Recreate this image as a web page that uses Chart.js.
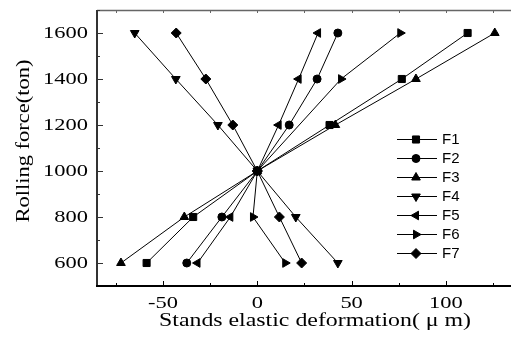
<!DOCTYPE html>
<html>
<head>
<meta charset="utf-8">
<script src="https://cdn.jsdelivr.net/npm/chart.js@4/dist/chart.umd.min.js"></script>
<style>
    html, body { margin: 0; padding: 0; background: #fff; }
</style>
</head>
<body>
<canvas id="deformChart" width="517" height="340"></canvas>
<script>
// ===============================
// DATA
// ===============================
const forces = [600, 800, 1000, 1200, 1400, 1600];

const f1 = [-58.7, -34.0, 0, 38.3, 76.6, 111.5];
const f2 = [-37.4, -18.8, 0, 16.9, 31.7, 42.7];
const f3 = [-72.3, -38.7, 0, 41.4, 84.1, 125.9];
const f4 = [42.7, 20.4, 0, -20.9, -43.2, -65.0];
const f5 = [-31.7, -14.3, 0, 11.3, 21.9, 32.2];
const f6 = [14.8, -2.3, 0, null, 44.4, 75.8];   // no marker at 1200
const f7 = [23.5, 11.7, 0, -13.0, -27.3, -43.0];

const seriesNames = ['F1', 'F2', 'F3', 'F4', 'F5', 'F6', 'F7'];
const seriesValues = [f1, f2, f3, f4, f5, f6, f7];

const xTickLabels = [-50, 0, 50, 100];
const yTickLabels = [600, 800, 1000, 1200, 1400, 1600];

const xTitle = 'Stands elastic deformation( \u03bc m)';
const yTitle = 'Rolling force(ton)';

// ===============================
// MARKER STYLES
// ===============================
const markers = [
    { style: 'rect', rot: 0, r: 5 },
    { style: 'circle', rot: 0, r: 4 },
    { style: 'triangle', rot: 0, r: 5 },
    { style: 'triangle', rot: 180, r: 5 },
    { style: 'triangle', rot: 270, r: 5 },
    { style: 'triangle', rot: 90, r: 5 },
    { style: 'rectRot', rot: 0, r: 5 }
];

function buildPoints(values) {
    const pts = [];
    values.forEach((v, i) => {
        if (v !== null) pts.push({ x: v, y: forces[i] });
    });
    return pts;
}

const datasets = seriesValues.map((vals, i) => ({
    label: seriesNames[i],
    data: buildPoints(vals),
    borderColor: '#000',
    borderWidth: 1,
    backgroundColor: '#000',
    pointStyle: markers[i].style,
    pointRotation: markers[i].rot,
    pointRadius: markers[i].r,
    pointBorderWidth: 1,
    pointBackgroundColor: '#000',
    pointBorderColor: '#000',
    tension: 0,
    fill: false
}));

// ===============================
// TEXT HELPER (serif text is drawn wide in the original)
// ===============================
function wideText(ctx, text, x, y, sx, align) {
    ctx.save();
    ctx.translate(x, y);
    ctx.scale(sx, 1);
    ctx.textAlign = align;
    ctx.fillText(text, 0, 0);
    ctx.restore();
}

// ===============================
// AXES, TICKS, TITLES, LEGEND
// ===============================
const framePlugin = {
    id: 'frame',
    afterDraw(chart) {
        const ctx = chart.ctx;
        const a = chart.chartArea;
        const xs = chart.scales.x;
        const ys = chart.scales.y;

        ctx.save();

        // top line
        ctx.strokeStyle = '#666';
        ctx.lineWidth = 1.5;
        ctx.beginPath();
        ctx.moveTo(a.left, a.top + 0.5);
        ctx.lineTo(a.right, a.top + 0.5);
        ctx.stroke();

        // left line
        ctx.strokeStyle = '#333';
        ctx.lineWidth = 2;
        ctx.beginPath();
        ctx.moveTo(a.left, a.top);
        ctx.lineTo(a.left, a.bottom);
        ctx.stroke();

        // bottom line
        ctx.strokeStyle = '#000';
        ctx.beginPath();
        ctx.moveTo(a.left - 1, a.bottom);
        ctx.lineTo(a.right, a.bottom);
        ctx.stroke();

        // x ticks (every 25, major every 50), inward
        ctx.lineWidth = 1;
        for (let v = -75; v <= 125; v += 25) {
            const px = Math.round(xs.getPixelForValue(v)) + 0.5;
            const major = v % 50 === 0;
            ctx.strokeStyle = '#000';
            ctx.beginPath();
            ctx.moveTo(px, a.bottom);
            ctx.lineTo(px, a.bottom - (major ? 5 : 3));
            ctx.stroke();
            ctx.strokeStyle = '#666';
            ctx.beginPath();
            ctx.moveTo(px, a.top);
            ctx.lineTo(px, a.top + 3);
            ctx.stroke();
        }

        // y ticks (every 100, major every 200), inward
        ctx.strokeStyle = '#333';
        for (let v = 600; v <= 1700; v += 100) {
            const py = Math.round(ys.getPixelForValue(v)) + 0.5;
            const major = v % 200 === 0;
            ctx.beginPath();
            ctx.moveTo(a.left, py);
            ctx.lineTo(a.left + (major ? 6 : 3), py);
            ctx.stroke();
        }

        // tick labels
        ctx.fillStyle = '#000';
        ctx.font = '17px "Liberation Serif", "Times New Roman", serif';
        ctx.textBaseline = 'middle';
        yTickLabels.forEach(v => {
            wideText(ctx, String(v), 88, ys.getPixelForValue(v) + 1, 1.32, 'right');
        });
        xTickLabels.forEach(v => {
            wideText(ctx, String(v), xs.getPixelForValue(v), 304, 1.32, 'center');
        });

        // axis titles
        ctx.font = '18px "Liberation Serif", "Times New Roman", serif';
        const xw = ctx.measureText(xTitle).width;
        wideText(ctx, xTitle, 315, 321, 312 / xw, 'center');

        const yw = ctx.measureText(yTitle).width;
        ctx.save();
        ctx.translate(24, 141);
        ctx.rotate(-Math.PI / 2);
        wideText(ctx, yTitle, 0, 0, 163 / yw, 'center');
        ctx.restore();

        // legend
        ctx.font = '15px "Liberation Sans", Arial, sans-serif';
        ctx.textAlign = 'left';
        seriesNames.forEach((name, i) => {
            const y = 139 + i * 19;
            ctx.strokeStyle = '#000';
            ctx.lineWidth = 1;
            ctx.beginPath();
            ctx.moveTo(397, y + 0.5);
            ctx.lineTo(437, y + 0.5);
            ctx.stroke();
            ctx.fillStyle = '#000';
            Chart.helpers.drawPoint(ctx, {
                pointStyle: markers[i].style,
                rotation: markers[i].rot,
                radius: markers[i].r,
                borderWidth: 1
            }, 416, y + 0.5);
            ctx.fillStyle = '#000';
            ctx.fillText(name, 442, y + 1);
        });

        ctx.restore();
    }
};

// ===============================
// CHART
// ===============================
const ctx = document.getElementById('deformChart').getContext('2d');

new Chart(ctx, {
    type: 'line',
    data: { datasets: datasets },
    options: {
        responsive: false,
        animation: false,
        devicePixelRatio: 1,
        layout: { padding: { top: 10, right: 0, bottom: 0, left: 0 } },
        plugins: {
            legend: { display: false },
            tooltip: { enabled: false }
        },
        scales: {
            x: {
                type: 'linear',
                min: -85,
                max: 134.5,
                grid: { display: false },
                border: { display: false },
                ticks: { display: false },
                afterFit: s => { s.height = 54; }
            },
            y: {
                type: 'linear',
                min: 500,
                max: 1700,
                grid: { display: false },
                border: { display: false },
                ticks: { display: false },
                afterFit: s => { s.width = 97; }
            }
        }
    },
    plugins: [framePlugin]
});
</script>
</body>
</html>
